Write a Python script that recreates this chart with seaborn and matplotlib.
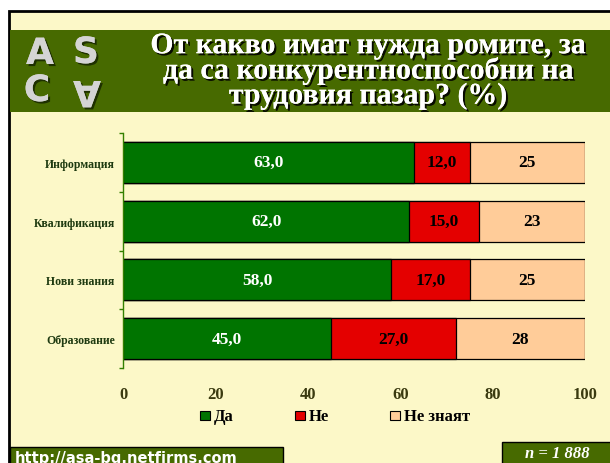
import numpy as np
import pandas as pd
import matplotlib
matplotlib.use("Agg")
import matplotlib.pyplot as plt
import matplotlib.patheffects as pe
from matplotlib.patches import Rectangle
import seaborn as sns

categories = ["Информация", "Квалификация", "Нови знания", "Образование"]
da = [63.0, 62.0, 58.0, 45.0]
ne = [12.0, 15.0, 17.0, 27.0]
ne_znaiat = [25, 23, 25, 28]
series_names = ["Да", "Не", "Не знаят"]
x_ticks = [0, 20, 40, 60, 80, 100]

title = "От какво имат нужда ромите, за\nда са конкурентноспособни на\nтрудовия пазар? (%)"
site = "http://asa-bg.netfirms.com"
sample = "n = 1 888"

C_BG = "#FCF8C8"
C_BAND = "#476A00"
C_GREEN = "#007400"
C_RED = "#E40000"
C_PEACH = "#FFCC99"
SERIF = ["Liberation Serif", "DejaVu Serif"]

sns.set_style("white")
plt.rcParams["font.family"] = SERIF

W, H = 610, 464
fig = plt.figure(figsize=(W / 100, H / 100), dpi=100)
fig.patch.set_facecolor("white")


def px_rect(x0, y0, x1, y1, zorder=-5, **kw):
    # rectangle given in pixel coords (top-left origin)
    r = Rectangle((x0 / W, 1 - y1 / H), (x1 - x0) / W, (y1 - y0) / H,
                  transform=fig.transFigure, zorder=zorder, **kw)
    fig.patches.append(r)
    return r


# page background and frame
px_rect(9, 12, W + 5, H + 5, facecolor=C_BG, edgecolor="black", linewidth=2, zorder=-10)
px_rect(10, 31, W, 113, facecolor=C_BAND, edgecolor="none", zorder=-9)

# title
fig.text(368 / W, 1 - 72 / H, title, ha="center", va="center", color="white",
         fontsize=21.5, fontweight="bold", linespacing=0.9,
         path_effects=[pe.withSimplePatchShadow(offset=(1.5, -1.5), shadow_rgbFace="black", alpha=0.9),
                       pe.Normal()])

# logo
logo_fx = [pe.withSimplePatchShadow(offset=(1.5, -1.5), shadow_rgbFace="#1a2a00", alpha=0.9), pe.Normal()]
logo_kw = dict(color="#D4D4D4", fontsize=26, fontweight="bold", family="DejaVu Sans",
               ha="center", va="center", path_effects=logo_fx)
fig.text(40 / W, 1 - 55 / H, "A", **logo_kw)
fig.text(86 / W, 1 - 54 / H, "S", **logo_kw)
fig.text(37 / W, 1 - 92 / H, "C", **logo_kw)
fig.text(87 / W, 1 - 92 / H, "A", rotation=180, **logo_kw)

# chart
ax = fig.add_axes([123 / W, 1 - 369 / H, (585 - 123) / W, (369 - 134) / H])
ax.set_facecolor("none")

df = pd.DataFrame({"cat": categories, "da": da, "ne": ne, "nz": ne_znaiat})
df["c1"] = df["da"]
df["c2"] = df["da"] + df["ne"]
df["c3"] = df["c2"] + df["nz"]

bar_kw = dict(y="cat", orient="h", width=0.7, edgecolor="black", linewidth=0.9, ax=ax, order=categories)
sns.barplot(data=df, x="c3", color=C_PEACH, saturation=1, **bar_kw)
sns.barplot(data=df, x="c2", color=C_RED, saturation=1, **bar_kw)
sns.barplot(data=df, x="c1", color=C_GREEN, saturation=1, **bar_kw)

for i, row in df.iterrows():
    ax.text(row["da"] / 2, i, f"{row['da']:.1f}".replace(".", ","), ha="center", va="center",
            color="white", fontsize=12.5, fontweight="bold")
    ax.text(row["da"] + row["ne"] / 2, i, f"{row['ne']:.1f}".replace(".", ","), ha="center",
            va="center", color="black", fontsize=12.5, fontweight="bold")
    ax.text(row["c2"] + row["nz"] / 2, i, f"{row['nz']:d}", ha="center", va="center",
            color="black", fontsize=12.5, fontweight="bold")

ax.set_xlim(0, 100)
ax.set_ylim(3.5, -0.5)
ax.set_xticks(x_ticks)
ax.set_xticklabels([str(t) for t in x_ticks], fontsize=12, fontweight="bold", color="#3A3A10")
ax.tick_params(axis="x", length=0, pad=13)
ax.set_yticks(np.arange(-0.5, len(categories), 1.0), minor=True)
ax.tick_params(axis="y", which="minor", length=3, color="#338000", width=1, left=True)
ax.tick_params(axis="y", which="major", length=0, pad=6)
ax.set_yticklabels(categories, fontsize=8.5, fontweight="bold", color="#1E3A10")
ax.set_xlabel("")
ax.set_ylabel("")
for s in ["top", "right", "bottom"]:
    ax.spines[s].set_visible(False)
ax.spines["left"].set_color("#338000")
ax.spines["left"].set_linewidth(1)

# legend
leg_colors = [C_GREEN, C_RED, C_PEACH]
leg_x = [200, 295, 390]
for name, col, lx in zip(series_names, leg_colors, leg_x):
    px_rect(lx, 412, lx + 10, 421, facecolor=col, edgecolor="black", linewidth=0.8, zorder=2)
    fig.text((lx + 14) / W, 1 - 417 / H, name, ha="left", va="center", fontsize=12,
             fontweight="bold", color="black")

# footer boxes
px_rect(10, 448, 283, H + 3, facecolor=C_BAND, edgecolor="black", linewidth=1, zorder=2)
fig.text(15 / W, 1 - 463 / H, site, ha="left", va="baseline", color="white", fontsize=10.5,
         fontweight="bold", family="DejaVu Sans")
px_rect(502, 443, W + 3, H + 3, facecolor=C_BAND, edgecolor="black", linewidth=1, zorder=2)
fig.text(557 / W, 1 - 454 / H, sample, ha="center", va="center", color="white", fontsize=12,
         fontweight="bold", style="italic")

fig.savefig("out.png", dpi=100, facecolor=fig.get_facecolor())
